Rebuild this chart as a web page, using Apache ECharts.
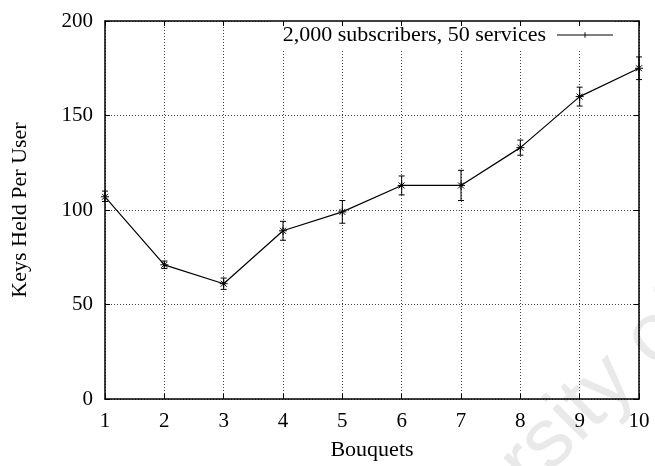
<!DOCTYPE html>
<html>
<head>
<meta charset="utf-8">
<script src="https://cdn.jsdelivr.net/npm/echarts@6/dist/echarts.min.js"></script>
<style>
  html, body { margin: 0; padding: 0; background: #fff; }
  #chart { width: 655px; height: 466px; }
</style>
</head>
<body>
<div id="chart"></div>
<script>
  // values
  var bouquets = [1, 2, 3, 4, 5, 6, 7, 8, 9, 10];
  var keysHeld = [107, 71, 61, 89, 99, 113, 113, 133, 160, 175];
  var keysLow  = [104.5, 69, 58, 84, 93, 108, 105, 129, 155, 169];
  var keysHigh = [110, 73, 64, 94, 105, 118, 121, 137, 165, 181];
  var seriesName = '2,000 subscribers, 50 services';

  var font = 'Liberation Serif';

  var lineData = bouquets.map(function (b, i) { return [b, keysHeld[i]]; });
  var errData = bouquets.map(function (b, i) {
    return [b, keysHeld[i], keysLow[i], keysHigh[i]];
  });

  var chart = echarts.init(document.getElementById('chart'), null, { renderer: 'canvas' });

  function renderErr(params, api) {
    var x = api.value(0);
    var p = api.coord([x, api.value(1)]);
    var lo = api.coord([x, api.value(2)]);
    var hi = api.coord([x, api.value(3)]);
    var st = { stroke: '#000', lineWidth: 1 };
    var c = 3, a = 4, d = 3;
    function seg(x1, y1, x2, y2) {
      return { type: 'line', shape: { x1: x1, y1: y1, x2: x2, y2: y2 }, style: st };
    }
    return {
      type: 'group',
      children: [
        seg(lo[0], lo[1], hi[0], hi[1]),
        seg(lo[0] - c, lo[1], lo[0] + c, lo[1]),
        seg(hi[0] - c, hi[1], hi[0] + c, hi[1]),
        // asterisk marker
        seg(p[0] - a, p[1], p[0] + a, p[1]),
        seg(p[0], p[1] - a, p[0], p[1] + a),
        seg(p[0] - d, p[1] - d, p[0] + d, p[1] + d),
        seg(p[0] - d, p[1] + d, p[0] + d, p[1] - d)
      ]
    };
  }

  var gridLine = { show: true, lineStyle: { color: '#444', type: [1, 2], width: 1 } };

  chart.setOption({
    animation: false,
    backgroundColor: '#fff',
    textStyle: { fontFamily: font },
    grid: { left: 105, right: 16, top: 21, bottom: 65 },
    legend: {
      data: [{
        name: seriesName,
        icon: 'path://M0,4.5H60V5.5H0Z M29.5,2H30.5V8H29.5Z'
      }],
      right: 40,
      top: 21,
      align: 'right',
      itemWidth: 56,
      itemHeight: 10,
      padding: [3, 2, 3, 12],
      backgroundColor: '#fff',
      textStyle: { fontFamily: font, fontSize: 22, color: '#000', padding: [0, 6, 0, 0] }
    },
    xAxis: [{
      type: 'value',
      min: 1, max: 10, interval: 1,
      name: 'Bouquets',
      nameLocation: 'middle',
      nameGap: 40,
      nameTextStyle: { fontFamily: font, fontSize: 22, color: '#000' },
      axisLine: { show: true, onZero: false, lineStyle: { color: '#000', width: 1.5 } },
      axisTick: { show: true, inside: true, length: 5, lineStyle: { color: '#000' } },
      axisLabel: { margin: 12, fontFamily: font, fontSize: 21, color: '#000' },
      splitLine: gridLine
    }, {
      type: 'value',
      position: 'top',
      min: 1, max: 10, interval: 1,
      z: 10,
      axisLine: { show: true, onZero: false, lineStyle: { color: '#000', width: 1.5 } },
      axisTick: { show: true, inside: true, length: 5, lineStyle: { color: '#000' } },
      axisLabel: { show: false },
      splitLine: { show: false }
    }],
    yAxis: [{
      type: 'value',
      min: 0, max: 200, interval: 50,
      name: 'Keys Held Per User',
      nameLocation: 'middle',
      nameGap: 74,
      nameTextStyle: { fontFamily: font, fontSize: 22, color: '#000' },
      axisLine: { show: true, onZero: false, lineStyle: { color: '#000', width: 1.5 } },
      axisTick: { show: true, inside: true, length: 5, lineStyle: { color: '#000' } },
      axisLabel: { margin: 12, fontFamily: font, fontSize: 21, color: '#000' },
      splitLine: gridLine
    }, {
      type: 'value',
      position: 'right',
      min: 0, max: 200, interval: 50,
      z: 10,
      axisLine: { show: true, onZero: false, lineStyle: { color: '#000', width: 1.5 } },
      axisTick: { show: true, inside: true, length: 5, lineStyle: { color: '#000' } },
      axisLabel: { show: false },
      splitLine: { show: false }
    }],
    graphic: [{
      type: 'text',
      x: 717, y: 334,
      rotation: 0.78,
      silent: true,
      z: -10,
      style: {
        text: 'University of',
        fontFamily: 'Liberation Sans',
        fontSize: 83,
        fill: '#e9e9e9',
        textAlign: 'right',
        textVerticalAlign: 'bottom'
      }
    }],
    series: [{
      name: seriesName,
      type: 'line',
      data: lineData,
      symbol: 'none',
      color: '#000',
      lineStyle: { color: '#000', width: 1.2 },
      z: 3
    }, {
      name: 'err',
      type: 'custom',
      data: errData,
      renderItem: renderErr,
      z: 4
    }]
  });
</script>
</body>
</html>
